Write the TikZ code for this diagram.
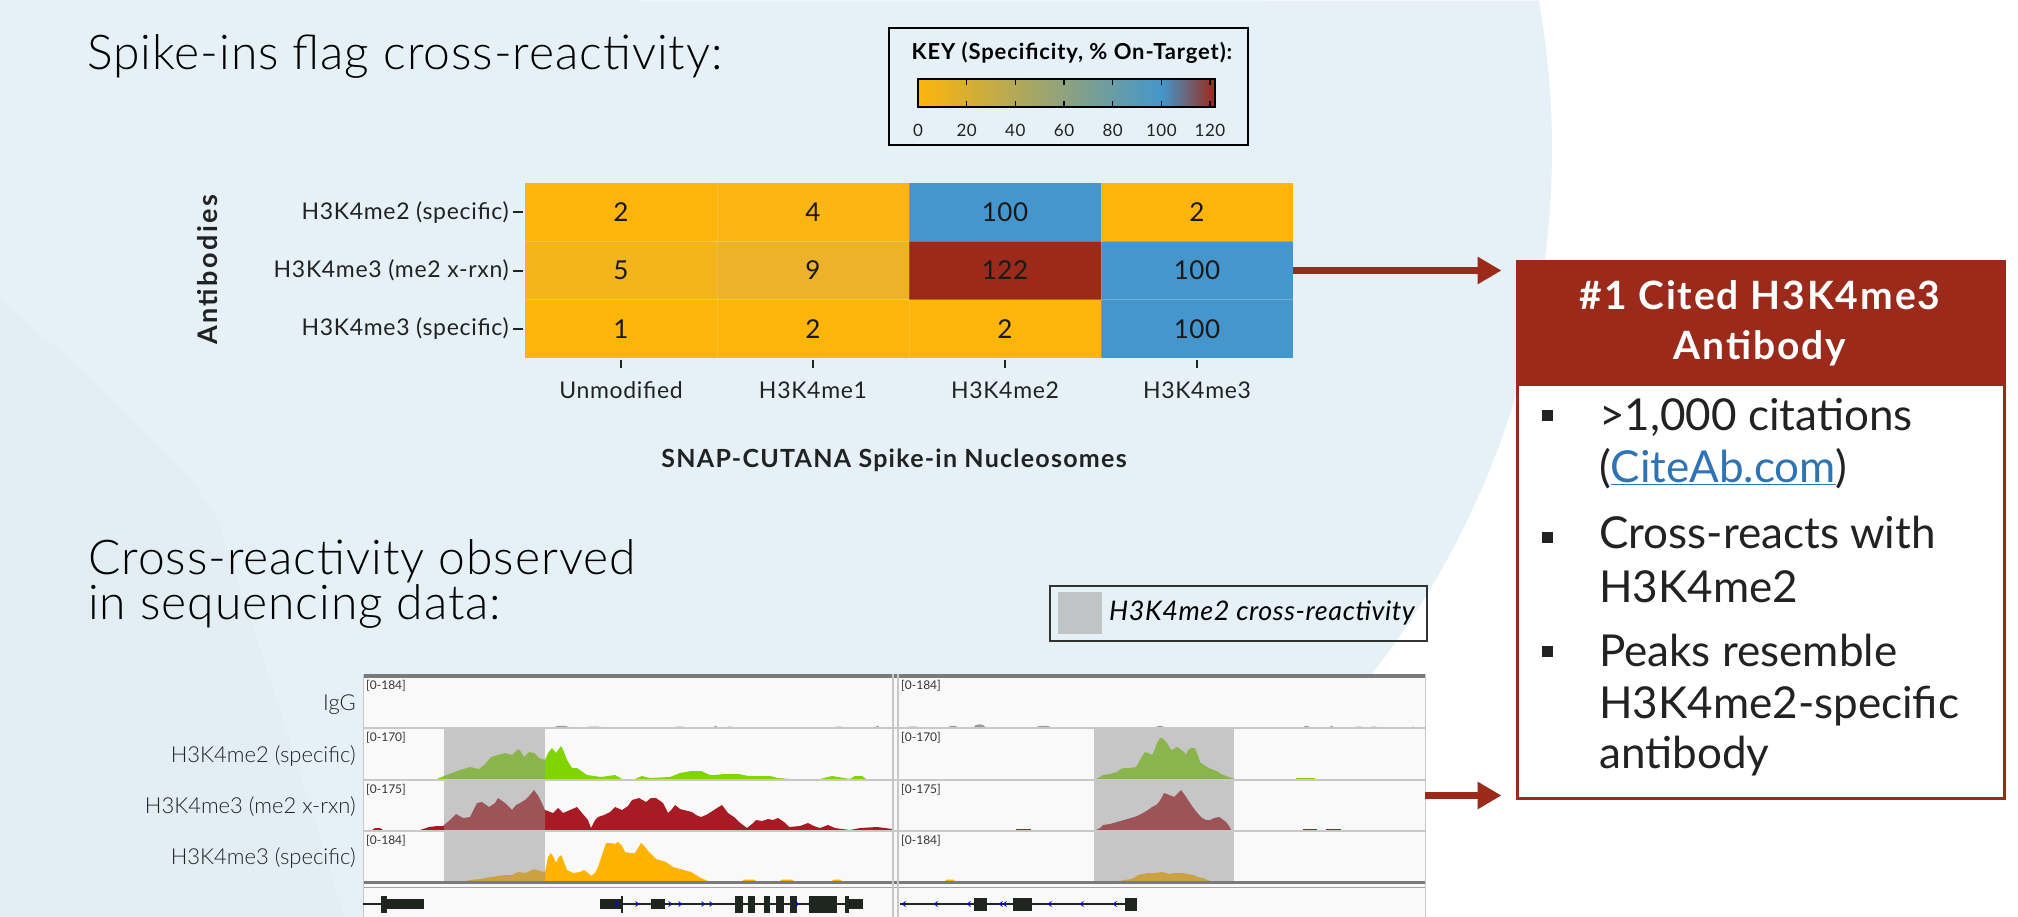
\documentclass[tikz,border=0pt]{standalone}
\usepackage{fontspec}
\setmainfont{Lato}
\newfontfamily\lightfont{Lato Light}
\usetikzlibrary{arrows.meta}
\definecolor{bg}{HTML}{E6F1F7}
\definecolor{bgdark}{HTML}{E2EDF4}
\definecolor{cOr}{HTML}{FDB50A}
\definecolor{cOrA}{HTML}{F4B41C}
\definecolor{cOrB}{HTML}{ECB22A}
\definecolor{cOrC}{HTML}{FAB512}
\definecolor{cBl}{HTML}{4496CC}
\definecolor{cRd}{HTML}{9B2A1A}
\definecolor{txt}{HTML}{222222}
\definecolor{linkc}{HTML}{2E74B5}
\definecolor{hl}{HTML}{C6C6C6}
\definecolor{legsq}{HTML}{C0C4C4}
\definecolor{gBright}{HTML}{80D400}
\definecolor{gMuted}{HTML}{8AB54A}
\definecolor{rBright}{HTML}{A81A24}
\definecolor{rMuted}{HTML}{9C5457}
\definecolor{oBright}{HTML}{FDB300}
\definecolor{oMuted}{HTML}{CDA142}
\definecolor{igvbg}{HTML}{F9F9F9}
\definecolor{igvline}{HTML}{C8C8C8}
\definecolor{igvdark}{HTML}{7A7A7A}
\definecolor{genec}{HTML}{1F2620}
\definecolor{igvgray}{HTML}{9A9A9A}
\pgfdeclarehorizontalshading{keybar}{100bp}{color(0bp)=(cOr); color(25bp)=(cOr); color(66bp)=(cBl); color(75bp)=(cRd); color(100bp)=(cRd)}
\newcommand\setfs[1]{\fontsize{#1}{#1}\selectfont}
\newcommand\lsp[1]{\addfontfeature{LetterSpace=#1}}
\begin{document}
\begin{tikzpicture}[x=1pt,y=-1pt,
  lbl/.style={inner sep=0, text=txt},
  title/.style={lbl, anchor=base west, font=\lightfont\fontsize{48}{40}\selectfont\lsp{2}, text=black},
  cellnum/.style={inner sep=0, text=black!90, font=\setfs{26}\lsp{2}},
  axlbl/.style={lbl, font=\setfs{23}\lsp{3}},
  axtitle/.style={lbl, font=\bfseries\setfs{25}\lsp{5}},
  tickl/.style={line width=2pt, draw=txt},
  keylbl/.style={lbl, font=\setfs{17}\lsp{3}},
  arr/.style={line width=7pt, draw=cRd, -{Triangle[length=24pt,width=26pt]}, shorten >=14pt},
  hdr/.style={inner sep=0, anchor=base, text=white, font=\bfseries\setfs{39}\lsp{5}},
  bul/.style={lbl, anchor=base west, font=\setfs{44}},
  trk/.style={inner sep=0, anchor=east, text=txt, font=\lightfont\setfs{22}},
  rng/.style={inner sep=0, anchor=north west, text=black!80, font=\setfs{12}},
  sep/.style={draw=igvline, line width=1.5pt},
  genebox/.style={fill=genec},
  chev/.style={draw=blue, line width=0.8pt}
]
\useasboundingbox (0,0) rectangle (2018,917);
% background
\fill[white] (0,0) rectangle (2018,917);
\fill[bg] (0,0) -- plot[domain=-10.1:64.2,samples=80] ({700+852*cos(\x)},{150+852*sin(\x)}) -- (0,917) -- cycle;
\fill[bgdark] (0,300) .. controls (120,400) and (190,470) .. (218,520) .. controls (260,650) and (310,800) .. (344,917) -- (0,917) -- cycle;

% titles
\node[title] (t1) at (87,70) {Spike-ins flag cross-reactivity:};
\node[title, align=left] (t2) at (88,619) {Cross-reactivity observed\\in sequencing data:};

% key
\node[draw=black, line width=2pt, minimum width=359pt, minimum height=117pt, inner sep=0] (key) at (1068.5,86.5) {};
\node[lbl, font=\bfseries\setfs{22}\lsp{4}, text=black] (keytitle) at (1072,53) {KEY (Specificity, \% On-Target):};
\shade[shading=keybar] (918,79) rectangle (1215,107);
\draw[line width=2pt] (918,79) rectangle (1215,107);
\foreach \k in {1,...,6} {
  \draw[line width=1.5pt] ({918+48.67*\k},79) -- ++(0,6);
  \draw[line width=1.5pt] ({918+48.67*\k},107) -- ++(0,-6);
}
\foreach \k/\t in {0/0,1/20,2/40,3/60,4/80,5/100,6/120}
  \node[keylbl] (kl\k) at ({918+48.67*\k},130) {\t};

% heatmap
\node[inner sep=0, minimum width=768pt, minimum height=175pt] (heat) at (909,270.5) {};
\foreach \r/\c/\v/\col in {0/0/2/cOr,0/1/4/cOrC,0/2/100/cBl,0/3/2/cOr,1/0/5/cOrA,1/1/9/cOrB,1/2/122/cRd,1/3/100/cBl,2/0/1/cOr,2/1/2/cOr,2/2/2/cOr,2/3/100/cBl} {
  \fill[\col] ({525+192*\c},{183+58.33*\r}) rectangle ++(192,58.33);
  \node[cellnum] (cell\r\c) at ({621+192*\c},{212.2+58.33*\r}) {\v};
}
\foreach \k in {1,2}
  \draw[white, opacity=0.25, line width=1pt] (525,{183+58.33*\k}) -- (1293,{183+58.33*\k});
\foreach \k in {1,2,3}
  \draw[white, opacity=0.15, line width=1pt] ({525+192*\k},183) -- ({525+192*\k},358);
\foreach \i/\t in {0/H3K4me2 (specific),1/H3K4me3 (me2 x-rxn),2/H3K4me3 (specific)} {
  \draw[tickl] (513,{212.2+58.33*\i}) -- (523,{212.2+58.33*\i});
  \node[axlbl, anchor=east] (ylab\i) at (509,{212.2+58.33*\i}) {\t};
}
\foreach \i/\t in {0/Unmodified,1/H3K4me1,2/H3K4me2,3/H3K4me3} {
  \draw[tickl] ({621+192*\i},360) -- ({621+192*\i},368);
  \node[axlbl] (xlab\i) at ({621+192*\i},390) {\t};
}
\node[axtitle, rotate=90, font=\bfseries\setfs{27}\lsp{9}] (ytitle) at (208,270) {Antibodies};
\node[axtitle] (xtitle) at (894,460) {SNAP-CUTANA Spike-in Nucleosomes};

% legend
\node[draw=black!80, line width=2pt, minimum width=377pt, minimum height=55pt, inner sep=0] (legend) at (1238.5,613.5) {};
\fill[legsq] (1058,592) rectangle (1102,634);
\node[lbl, anchor=west, font=\itshape\setfs{27}\lsp{2}, text=black] (legtext) at (1109,613) {H3K4me2 cross-reactivity};

% IGV panel
\node[inner sep=0, minimum width=1062pt, minimum height=243pt] (igv) at (894,795.5) {};
\fill[igvbg] (363,674) rectangle (1425,917);
% IgG bumps
\foreach \a/\b/\h in {553/570/3,584/604/2,672/687/2,713/718/3,725/735/2,832/845/2,875/880/3,904/921/2,947/959/3,973/986/5,1035/1052/3,1155/1165/3,1303/1310/3,1329/1334/3,1352/1365/2,1368/1379/2,1410/1416/2}
  \fill[igvgray] (\a,728) .. controls ({\a+2},{728-\h}) and ({\b-2},{728-\h}) .. (\b,728) -- cycle;
% bright signals
\fill[gBright] (437,779) -- (444,776) -- (452,773) -- (460,770) -- (470,767) -- (479,769) -- (485,764) -- (491,757) -- (498,755) -- (505,753) -- (512,755) -- (518,749) -- (521,752) -- (524,757) -- (529,752) -- (534,753) -- (539,758) -- (545,760) -- (548,753) -- (552,748) -- (556,753) -- (561,746) -- (564,752) -- (567,760) -- (572,768) -- (577,768) -- (587,775) -- (601,777) -- (615,775) -- (622,779) -- (635,779) -- (642,776) -- (650,778) -- (670,777) -- (680,773) -- (691,771) -- (701,771) -- (710,775) -- (715,775) -- (725,774) -- (739,774) -- (748,776) -- (756,776) -- (766,776) -- (770,776) -- (778,778) -- (790,779) -- (820,779) -- (832,776) -- (838,777) -- (850,779) -- (855,776) -- (862,776) -- (866,779) -- cycle;
\fill[rBright] (372,830) -- (375,828) -- (380,828) -- (383,830) -- (420,830) -- (429,827) -- (437,826) -- (443,826) -- (450,820) -- (456,814) -- (463,818) -- (470,817) -- (477,803) -- (482,802) -- (489,807) -- (495,803) -- (498,798) -- (505,803) -- (512,810) -- (516,805) -- (520,803) -- (525,800) -- (530,795) -- (534,790) -- (539,797) -- (545,810) -- (553,813) -- (558,808) -- (563,813) -- (570,810) -- (577,807) -- (582,813) -- (588,820) -- (591,828) -- (595,820) -- (598,817) -- (604,815) -- (610,812) -- (615,807) -- (622,810) -- (628,806) -- (632,800) -- (639,798) -- (646,802) -- (651,798) -- (656,798) -- (663,803) -- (668,813) -- (672,809) -- (675,805) -- (680,809) -- (684,810) -- (692,812) -- (696,815) -- (701,817) -- (706,815) -- (711,812) -- (717,808) -- (722,805) -- (728,813) -- (734,817) -- (739,822) -- (747,828) -- (752,824) -- (756,820) -- (762,821) -- (768,819) -- (773,820) -- (778,818) -- (784,822) -- (789,827) -- (800,826) -- (808,823) -- (814,826) -- (820,828) -- (828,825) -- (835,828) -- (842,829) -- (850,830) -- (860,828) -- (877,827) -- (885,828) -- (892,829) -- (892,830) -- cycle;
\fill[oBright] (465,881) -- (470,880) -- (480,879) -- (491,877) -- (505,875) -- (512,875) -- (518,872) -- (525,873) -- (530,871) -- (534,869) -- (540,871) -- (545,872) -- (548,857) -- (551,853) -- (554,858) -- (556,863) -- (558,858) -- (561,855) -- (564,862) -- (567,870) -- (573,873) -- (580,872) -- (584,870) -- (588,873) -- (591,876) -- (595,873) -- (598,867) -- (602,855) -- (606,843) -- (611,843) -- (615,844) -- (618,842) -- (622,846) -- (625,852) -- (630,853) -- (635,853) -- (638,848) -- (641,843) -- (645,847) -- (649,852) -- (656,859) -- (666,862) -- (673,867) -- (680,869) -- (691,872) -- (701,878) -- (708,881) -- cycle;
\foreach \a/\b in {742/756,780/794,832/842,945/955}
  \fill[oBright] (\a,881) -- ({\a+2},879.5) -- ({\b-2},879.5) -- (\b,881) -- cycle;
\foreach \a/\b in {1016/1031,1303/1317,1326/1341}
  \fill[rBright] (\a,830.5) rectangle (\b,829);
\fill[gBright] (1296,779.5) rectangle (1315,778);
% highlight regions
\fill[hl] (444,729) rectangle (545,882);
\fill[hl] (1094,729) rectangle (1234,882);
\begin{scope}
\clip (444,729) rectangle (545,882) (1094,729) rectangle (1234,882);
\fill[gMuted] (437,779) -- (444,776) -- (452,773) -- (460,770) -- (470,767) -- (479,769) -- (485,764) -- (491,757) -- (498,755) -- (505,753) -- (512,755) -- (518,749) -- (521,752) -- (524,757) -- (529,752) -- (534,753) -- (539,758) -- (545,760) -- (548,753) -- (548,779) -- cycle;
\fill[rMuted] (437,830) -- (437,826) -- (443,826) -- (450,820) -- (456,814) -- (463,818) -- (470,817) -- (477,803) -- (482,802) -- (489,807) -- (495,803) -- (498,798) -- (505,803) -- (512,810) -- (516,805) -- (520,803) -- (525,800) -- (530,795) -- (534,790) -- (539,797) -- (545,810) -- (553,813) -- (553,830) -- cycle;
\fill[oMuted] (465,881) -- (470,880) -- (480,879) -- (491,877) -- (505,875) -- (512,875) -- (518,872) -- (525,873) -- (530,871) -- (534,869) -- (540,871) -- (545,872) -- (548,857) -- (548,881) -- cycle;
\fill[gMuted] (1096,779) -- (1100,777) -- (1103,775) -- (1110,774) -- (1117,772) -- (1121,769) -- (1124,768) -- (1130,768) -- (1136,767) -- (1140,760) -- (1145,752) -- (1150,754) -- (1152,755) -- (1155,749) -- (1157,743) -- (1160,738) -- (1162,738) -- (1165,741) -- (1167,743) -- (1171,750) -- (1174,749) -- (1176,747) -- (1179,748) -- (1181,750) -- (1184,752) -- (1186,755) -- (1188,750) -- (1191,748) -- (1194,748) -- (1196,750) -- (1198,756) -- (1200,762) -- (1204,765) -- (1207,767) -- (1211,769) -- (1214,770) -- (1218,772) -- (1221,774) -- (1226,776) -- (1229,777) -- (1236,779) -- cycle;
\fill[rMuted] (1096,830) -- (1100,828) -- (1103,825) -- (1110,824) -- (1117,822) -- (1124,820) -- (1131,818) -- (1137,816) -- (1143,813) -- (1148,810) -- (1152,807) -- (1156,805) -- (1159,802) -- (1162,797) -- (1164,793) -- (1167,794) -- (1169,795) -- (1172,796) -- (1174,797) -- (1178,793) -- (1181,790) -- (1184,794) -- (1188,800) -- (1192,806) -- (1195,810) -- (1199,815) -- (1202,818) -- (1206,820) -- (1210,820) -- (1214,818) -- (1219,817) -- (1222,819) -- (1226,822) -- (1229,826) -- (1231,830) -- cycle;
\fill[oMuted] (1119,881) -- (1125,880) -- (1131,879) -- (1135,877) -- (1138,875) -- (1143,874) -- (1148,873) -- (1155,873) -- (1162,872) -- (1166,873) -- (1169,874) -- (1175,873) -- (1183,873) -- (1188,874) -- (1193,875) -- (1198,877) -- (1203,878) -- (1210,881) -- cycle;
\end{scope}
% separators and frame
\fill[igvdark] (363,674) rectangle (1425,678);
\foreach \yy in {728,780,831} \draw[sep] (363,\yy) -- (1425,\yy);
\draw[draw=igvdark, line width=2.5pt] (363,882.5) -- (1425,882.5);
\draw[draw=igvdark!70, line width=1.5pt] (363,887.5) -- (1425,887.5);
\draw[draw=igvline, line width=1.5pt] (363.5,674) -- (363.5,917);
\draw[draw=igvline, line width=1.5pt] (893,674) -- (893,917);
\draw[draw=igvline, line width=1.5pt] (898,674) -- (898,917);
\draw[draw=igvline, line width=1pt] (1425,674) -- (1425,917);
% range labels
\foreach \yy/\t/\i in {680/184/a,732/170/b,784/175/c,835/184/d} {
  \node[rng] (rl\i) at (366,\yy) {[0-\t]};
  \node[rng] (rr\i) at (901,\yy) {[0-\t]};
}
% gene track left
\draw[genec, line width=1.2pt] (363,904) -- (424,904);
\draw[genec, line width=1.2pt] (600,904) -- (863,904);
\fill[genebox] (381,896) rectangle (387,913);
\fill[genebox] (387,899) rectangle (424,909);
\fill[genebox] (600,899) rectangle (622,909);
\fill[genebox] (621,896) rectangle (623,913);
\fill[genebox] (651,899) rectangle (665,909);
\foreach \a/\b in {735/743,748/755,764/770,776/784,790/797,809/837}
  \fill[genebox] (\a,896) rectangle (\b,913);
\fill[genebox] (845,896) rectangle (849,913);
\fill[genebox] (849,899) rectangle (863,909);
\foreach \xx in {617,637,670,680,703,711,797}
  \draw[chev] ({\xx-1.5},901.5) -- ({\xx+1.5},904) -- ({\xx-1.5},906.5);
% gene track right
\draw[genec, line width=1.2pt] (900,904) -- (1137,904);
\foreach \a/\b in {974/987,1013/1032,1125/1137}
  \fill[genebox] (\a,898) rectangle (\b,911);
\foreach \xx in {904,936,969,1001,1005,1050,1082,1115}
  \draw[chev] ({\xx+1.5},901.5) -- ({\xx-1.5},904) -- ({\xx+1.5},906.5);
% track labels
\node[trk] (lig) at (356,705) {IgG};
\node[trk] (lme2) at (356,756) {H3K4me2 (specific)};
\node[trk] (lx) at (356,807) {H3K4me3 (me2 x-rxn)};
\node[trk] (lme3) at (356,858) {H3K4me3 (specific)};

% right box
\node[draw=cRd, line width=3pt, fill=white, minimum width=487pt, minimum height=536pt, inner sep=0] (box) at (1760.5,530) {};
\fill[cRd] (1517,262) rectangle (2004,386);
\node[hdr] (hdr1) at (1760,309) {\#1 Cited H3K4me3};
\node[hdr] (hdr2) at (1760,359) {Antibody};
\foreach \yy in {415,537.5,651}
  \fill[txt] (1541.5,{\yy-5.5}) rectangle ++(11,11);
\node[bul] (b1) at (1599,430) {>1,000 citations};
\node[bul] (b2) at (1599,482) {(\textcolor{linkc}{\underline{CiteAb.com}})};
\node[bul] (b3) at (1599,548) {Cross-reacts with};
\node[bul] (b4) at (1599,602) {H3K4me2};
\node[bul] (b5) at (1599,666) {Peaks resemble};
\node[bul] (b6) at (1599,718) {H3K4me2-specific};
\node[bul] (b7) at (1599,768) {antibody};

% arrows
\draw[arr] (heat.east) -- (heat.east -| box.west);
\draw[arr] (igv.east) -- (igv.east -| box.west);
\end{tikzpicture}
\end{document}
